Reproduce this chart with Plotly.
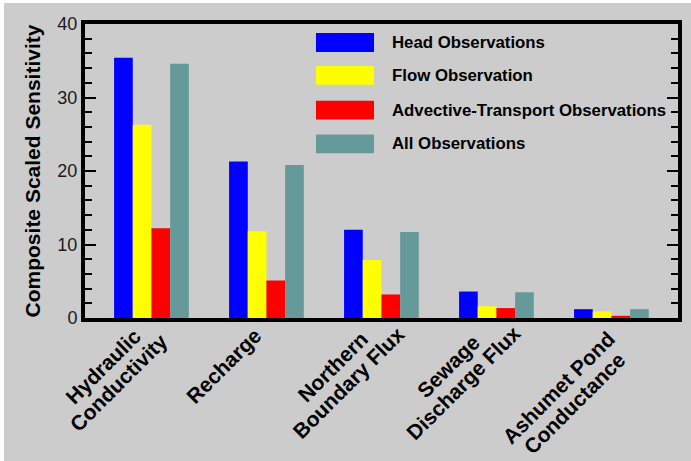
import plotly.graph_objects as go

categories = ["Hydraulic Conductivity", "Recharge", "Northern Boundary Flux",
              "Sewage Discharge Flux", "Ashumet Pond Conductance"]
tick_labels = [["Hydraulic", "Conductivity"], ["Recharge"], ["Northern", "Boundary Flux"],
               ["Sewage", "Discharge Flux"], ["Ashumet Pond", "Conductance"]]
series_names = ["Head Observations", "Flow Observation",
                "Advective-Transport Observations", "All Observations"]
head_obs = [35.4, 21.3, 12.0, 3.6, 1.2]
flow_obs = [26.3, 11.8, 7.9, 1.6, 0.9]
advective_obs = [12.2, 5.1, 3.2, 1.35, 0.3]
all_obs = [34.6, 20.8, 11.7, 3.5, 1.2]
series_values = [head_obs, flow_obs, advective_obs, all_obs]
series_colors = ["#0000ff", "#ffff00", "#ff0000", "#669999"]
y_tick_vals = [0, 10, 20, 30, 40]

FONT = "Liberation Sans, Arial, sans-serif"

fig = go.Figure()
for name, vals, col in zip(series_names, series_values, series_colors):
    fig.add_trace(go.Bar(x=categories, y=vals, name=name, marker_color=col,
                         marker_line_width=0, showlegend=False))

# custom legend (large swatches)
legend_y = [0.937, 0.825, 0.707, 0.592]
for ly, name, col in zip(legend_y, series_names, series_colors):
    fig.add_shape(type="rect", xref="paper", yref="paper",
                  x0=0.3895, x1=0.4874, y0=ly - 0.032, y1=ly + 0.032,
                  fillcolor=col, line_width=0)
    fig.add_annotation(xref="paper", yref="paper", x=0.5143, y=ly, text="<b>%s</b>" % name,
                       showarrow=False, xanchor="left", yanchor="middle",
                       font=dict(family=FONT, size=16.8, color="black"))

# rotated category labels, one annotation per text line (tight line spacing)
line_offsets = {1: [(-42.3, 47.8)], 2: [(-48.6, 48.2), (-32.8, 64.7)]}
label_nudge = {4: (-4.5, 20.8)}
for i, lines in enumerate(tick_labels):
    nx, ny = label_nudge.get(i, (0, 0))
    for (dx, dy), txt in zip(line_offsets[len(lines)], lines):
        fig.add_annotation(xref="x", yref="paper", x=i, y=0,
                           xshift=dx + nx, yshift=-(dy + ny),
                           text="<b>%s</b>" % txt, textangle=-45, showarrow=False,
                           xanchor="center", yanchor="middle",
                           font=dict(family=FONT, size=21, color="black"))

fig.update_layout(
    width=687, height=458,
    margin=dict(l=81, r=13, t=21, b=143, autoexpand=False),
    paper_bgcolor="#cccccc", plot_bgcolor="#cccccc",
    barmode="group", bargap=0.35, bargroupgap=0,
    font=dict(family=FONT, color="black"),
)
fig.update_xaxes(
    range=[-0.578, 4.579], showline=True, linewidth=4, linecolor="black", mirror=True,
    ticks="", showticklabels=False, showgrid=False, zeroline=False, automargin=False,
)
fig.update_yaxes(
    range=[0, 40], showline=True, linewidth=4, linecolor="black", mirror="allticks",
    ticks="inside", ticklen=11, tickwidth=2, tickcolor="black", automargin=False,
    tickvals=y_tick_vals, showgrid=False, zeroline=False,
    tickfont=dict(family=FONT, size=18, color="#1a1a1a"),
    minor=dict(ticks="inside", ticklen=7, tickwidth=2, tickcolor="black", dtick=2, showgrid=False),
    title=dict(text="<b>Composite Scaled Sensitivity</b>", font=dict(family=FONT, size=21, color="black"), standoff=12),
)

fig.write_html("out.html", post_script="document.body.style.margin='3px 0 0 4px';")
